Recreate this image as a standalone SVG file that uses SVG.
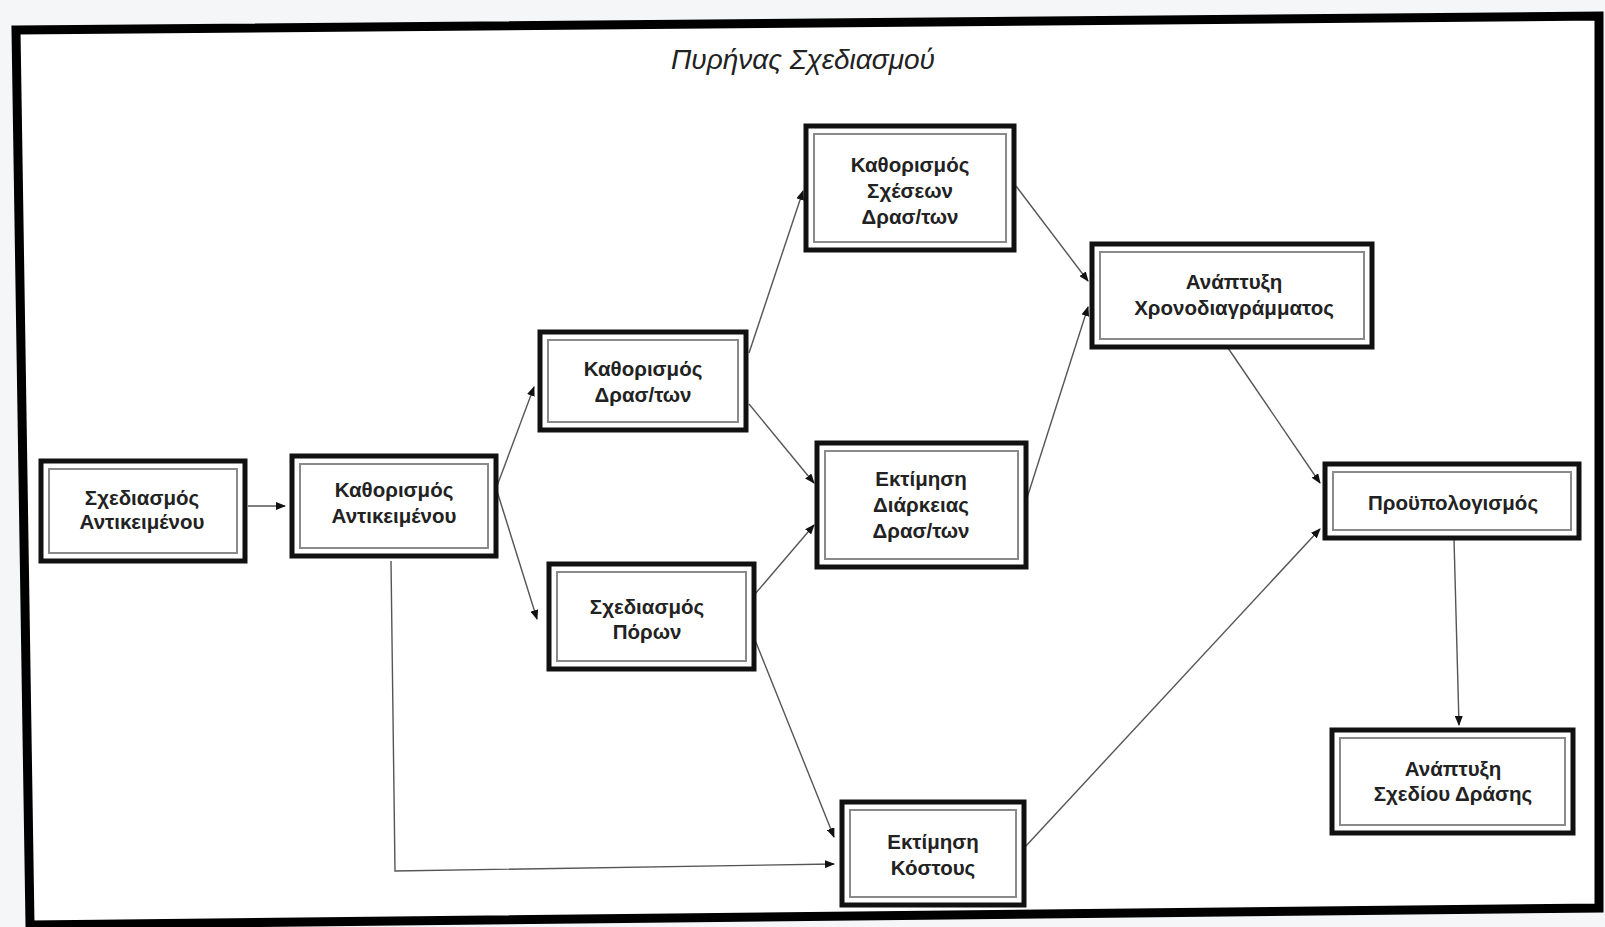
<svg xmlns="http://www.w3.org/2000/svg" width="1605" height="927" viewBox="0 0 1605 927">
<style>
.bg{fill:#f4f6f7}
.frame{fill:#ffffff;stroke:#000;stroke-width:9;stroke-linejoin:miter}
.box{fill:#fff;stroke:#111;stroke-width:5}
.inner{fill:none;stroke:#8a8a8a;stroke-width:2}
.t{font-family:"Liberation Sans","DejaVu Sans",sans-serif;font-size:20.5px;font-weight:bold;fill:#222;text-anchor:middle;dominant-baseline:central}
.title{font-family:"Liberation Sans","DejaVu Sans",sans-serif;font-size:28px;font-style:italic;fill:#222;text-anchor:middle;dominant-baseline:central}
.c{fill:none;stroke:#555;stroke-width:1.4}
</style>
<defs>
<marker id="ah" markerWidth="10" markerHeight="8" refX="9" refY="4" orient="auto" markerUnits="userSpaceOnUse">
<path d="M0,0 L10,4 L0,8 Z" fill="#111"/>
</marker>
</defs>
<rect class="bg" x="0" y="0" width="1605" height="927"/>
<path class="frame" d="M16,30 L1599,16 L1599,908 L30,925 Z"/>
<text class="title" x="803" y="59">Πυρήνας Σχεδιασμού</text>

<g id="connectors">
<line class="c" x1="248" y1="506" x2="285" y2="506" marker-end="url(#ah)"/>
<line class="c" x1="497" y1="486" x2="534" y2="387" marker-end="url(#ah)"/>
<line class="c" x1="497" y1="491" x2="537" y2="619" marker-end="url(#ah)"/>
<line class="c" x1="749" y1="353" x2="803" y2="191" marker-end="url(#ah)"/>
<line class="c" x1="749" y1="404" x2="814" y2="483" marker-end="url(#ah)"/>
<line class="c" x1="755" y1="594" x2="814" y2="525" marker-end="url(#ah)"/>
<line class="c" x1="755" y1="640" x2="834" y2="837" marker-end="url(#ah)"/>
<polyline class="c" points="391,561 395,871 834,864" marker-end="url(#ah)"/>
<line class="c" x1="1016" y1="186" x2="1088" y2="281" marker-end="url(#ah)"/>
<line class="c" x1="1027" y1="498" x2="1088" y2="307" marker-end="url(#ah)"/>
<line class="c" x1="1228" y1="348" x2="1320" y2="483" marker-end="url(#ah)"/>
<line class="c" x1="1025" y1="847" x2="1320" y2="529" marker-end="url(#ah)"/>
<line class="c" x1="1454" y1="539" x2="1459" y2="725" marker-end="url(#ah)"/>
</g>

<g id="n1">
<rect class="box" x="41" y="461" width="204" height="100"/>
<rect class="inner" x="49" y="469" width="188" height="84"/>
<text class="t" x="142" y="497">Σχεδιασμός</text>
<text class="t" x="142" y="521">Αντικειμένου</text>
</g>
<g id="n2">
<rect class="box" x="292" y="456" width="204" height="100"/>
<rect class="inner" x="300" y="464" width="188" height="84"/>
<text class="t" x="394" y="489">Καθορισμός</text>
<text class="t" x="394" y="515">Αντικειμένου</text>
</g>
<g id="n3">
<rect class="box" x="540" y="332" width="206" height="98"/>
<rect class="inner" x="548" y="340" width="190" height="82"/>
<text class="t" x="643" y="368">Καθορισμός</text>
<text class="t" x="643" y="394">Δρασ/των</text>
</g>
<g id="n4">
<rect class="box" x="549" y="564" width="205" height="105"/>
<rect class="inner" x="557" y="572" width="189" height="89"/>
<text class="t" x="647" y="606">Σχεδιασμός</text>
<text class="t" x="647" y="631">Πόρων</text>
</g>
<g id="n5">
<rect class="box" x="806" y="126" width="208" height="124"/>
<rect class="inner" x="814" y="134" width="192" height="108"/>
<text class="t" x="910" y="164">Καθορισμός</text>
<text class="t" x="910" y="190">Σχέσεων</text>
<text class="t" x="910" y="216">Δρασ/των</text>
</g>
<g id="n6">
<rect class="box" x="817" y="443" width="209" height="124"/>
<rect class="inner" x="825" y="451" width="193" height="108"/>
<text class="t" x="921" y="478">Εκτίμηση</text>
<text class="t" x="921" y="504">Διάρκειας</text>
<text class="t" x="921" y="530">Δρασ/των</text>
</g>
<g id="n7">
<rect class="box" x="1092" y="244" width="280" height="103"/>
<rect class="inner" x="1100" y="252" width="264" height="87"/>
<text class="t" x="1234" y="281">Ανάπτυξη</text>
<text class="t" x="1234" y="307">Χρονοδιαγράμματος</text>
</g>
<g id="n8">
<rect class="box" x="1325" y="464" width="254" height="74"/>
<rect class="inner" x="1333" y="472" width="238" height="58"/>
<text class="t" x="1453" y="502">Προϋπολογισμός</text>
</g>
<g id="n9">
<rect class="box" x="1332" y="730" width="241" height="103"/>
<rect class="inner" x="1340" y="738" width="225" height="87"/>
<text class="t" x="1453" y="768">Ανάπτυξη</text>
<text class="t" x="1453" y="793">Σχεδίου Δράσης</text>
</g>
<g id="n10">
<rect class="box" x="842" y="802" width="182" height="103"/>
<rect class="inner" x="850" y="810" width="166" height="87"/>
<text class="t" x="933" y="841">Εκτίμηση</text>
<text class="t" x="933" y="867">Κόστους</text>
</g>
</svg>
